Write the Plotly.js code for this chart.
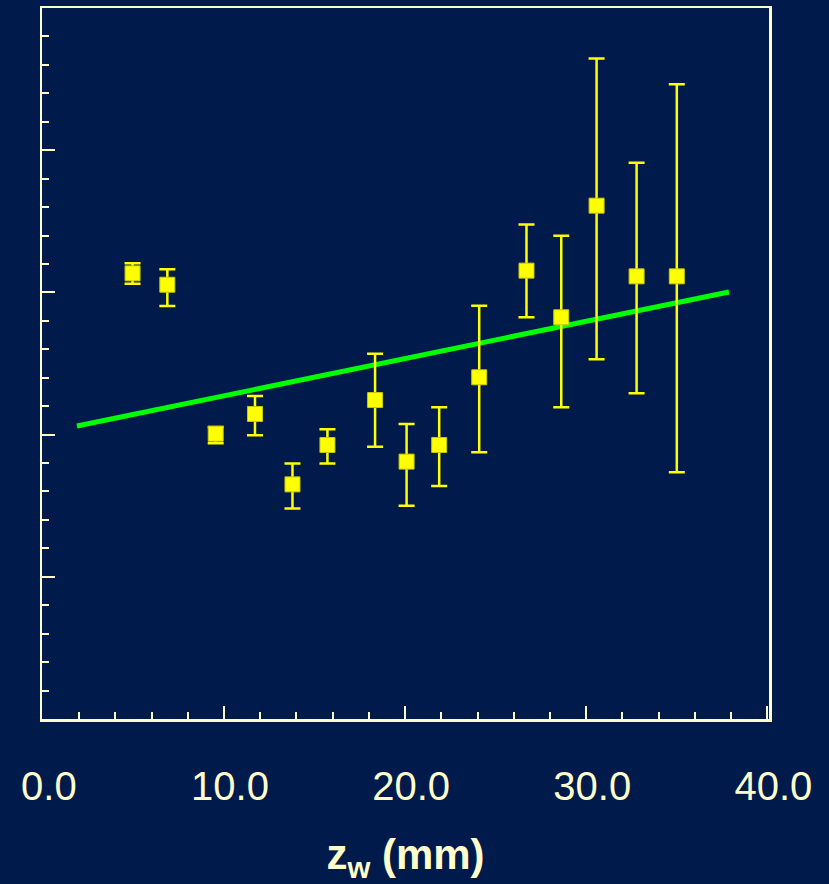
<!DOCTYPE html>
<html>
<head>
<meta charset="utf-8">
<script src="https://cdn.plot.ly/plotly-3.0.1.min.js"></script>
<style>html,body{margin:0;padding:0;background:#001A4B;}</style>
</head>
<body>
<div id="chart" style="width:829px;height:884px;"></div>
<script>
// Measured data (z_w in mm, y in arbitrary units – axis unlabeled)
const zw      = [4.95, 6.87, 9.54, 11.71, 13.78, 15.71, 18.34, 20.08, 21.88, 24.09, 26.70, 28.62, 30.57, 32.78, 35.00];
const yVal    = [3.134, 3.054, 2.006, 2.145, 1.650, 1.927, 2.243, 1.810, 1.927, 2.403, 3.153, 2.825, 3.610, 3.113, 3.113];
const errPlus = [0.071, 0.108, 0.047, 0.126, 0.147, 0.110, 0.326, 0.265, 0.265, 0.503, 0.325, 0.574, 1.034, 0.799, 1.350];
const errMinus= [0.073, 0.150, 0.067, 0.150, 0.169, 0.130, 0.328, 0.310, 0.288, 0.527, 0.328, 0.633, 1.080, 0.823, 1.378];
const fitX    = [1.88, 37.88];
const fitY    = [2.060, 3.003];
const xTickVals = [0, 10, 20, 30, 40];
const xTickText = ["0.0", "10.0", "20.0", "30.0", "40.0"];

const cream = "#FFFFCC";
const traces = [
  {
    x: fitX, y: fitY, type: "scatter", mode: "lines",
    line: {color: "#00FF00", width: 5},
    hoverinfo: "skip", showlegend: false
  },
  {
    x: zw, y: yVal, type: "scatter", mode: "markers",
    marker: {symbol: "square", size: 15, color: "#FFFF00",
             line: {color: "#C8C800", width: 1}},
    error_y: {type: "data", symmetric: false, array: errPlus, arrayminus: errMinus,
              color: "#FFFF00", thickness: 2.5, width: 8},
    showlegend: false
  }
];

const layout = {
  width: 829, height: 884,
  paper_bgcolor: "#001A4B", plot_bgcolor: "#001A4B",
  margin: {l: 42, r: 60, t: 8, b: 165},
  showlegend: false,
  xaxis: {
    range: [-0.05, 40.09],
    tickmode: "array", tickvals: xTickVals, ticktext: xTickText,
    ticks: "inside", ticklen: 13, tickwidth: 2, tickcolor: cream,
    minor: {dtick: 2, tick0: 0, ticks: "inside", ticklen: 7, tickwidth: 2, tickcolor: cream, showgrid: false},
    showgrid: false, zeroline: false,
    showline: true, mirror: true, linecolor: cream, linewidth: 2.5,
    tickfont: {family: "Liberation Sans, Arial, sans-serif", size: 40, color: cream},
    ticklabelstandoff: 30, ticklabelshift: 6,
    title: {text: "<b>z<sub>w</sub> (mm)</b>", standoff: 52,
            font: {family: "Liberation Sans, Arial, sans-serif", size: 42, color: cream}}
  },
  yaxis: {
    range: [0, 5],
    dtick: 1, tick0: 0,
    ticks: "inside", ticklen: 13, tickwidth: 2, tickcolor: cream,
    minor: {dtick: 0.2, tick0: 0, ticks: "inside", ticklen: 7, tickwidth: 2, tickcolor: cream, showgrid: false},
    showticklabels: false,
    showgrid: false, zeroline: false,
    showline: true, mirror: true, linecolor: cream, linewidth: 2.5
  }
};

Plotly.newPlot("chart", traces, layout, {displayModeBar: false, staticPlot: true});
</script>
</body>
</html>
